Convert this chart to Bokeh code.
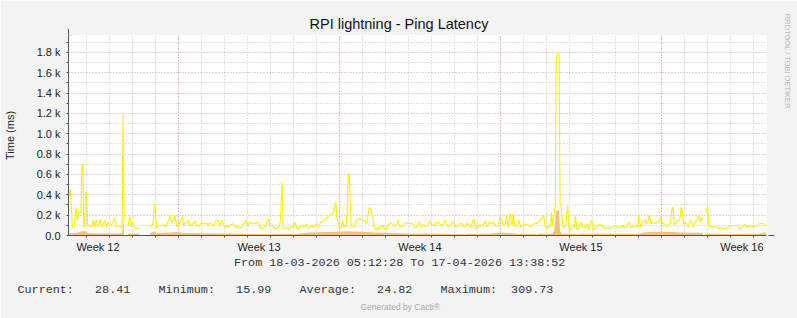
import numpy as np
import pandas as pd
from bokeh.plotting import figure
from bokeh.models import FixedTicker, Grid, Arrow, NormalHead, Range1d, Title
from bokeh.embed import file_html
from bokeh.resources import INLINE

# ---------------- data ----------------
start = pd.Timestamp("2026-03-18 05:12:28")
end = pd.Timestamp("2026-04-17 13:38:52")

# ping latency (max), hours after start -> ms ; None = no data
max_hours = [0, 2, 4, 6, 8, 9, 11, 13, 14, 15, 16, 17, 18, 19, 20, 22, 24, 26, 27, 29,
             31, 33, 35, 38, 40, 41, 45, 48, 50, 52, 54, 56, 57, 58, 60, 62, 64, 66, 67, 69,
             71, 74, 76, 85, 86, 88, 90, 92, 94, 96, 99, 101, 104, 106, 108, 110, 111, 113, 115, 119,
             120, 123, 125, 127, 130, 132, 134, 136, 139, 141, 144, 146, 147, 149, 151, 153, 156, 158, 160, 163,
             165, 167, 170, 172, 174, 177, 178, 181, 184, 185, 187, 189, 192, 194, 197, 199, 201, 204, 206, 209,
             210, 213, 216, 219, 220, 221, 222, 223, 224, 227, 230, 232, 235, 236, 238, 240, 243, 246, 248, 250,
             253, 256, 258, 260, 263, 265, 267, 269, 271, 273, 276, 277, 279, 280, 282, 284, 286, 287, 290, 291,
             292, 293, 295, 298, 301, 304, 306, 309, 311, 312, 314, 316, 318, 319, 321, 323, 324, 327, 329, 331,
             333, 336, 338, 341, 343, 344, 346, 349, 351, 354, 357, 360, 362, 364, 366, 368, 370, 372, 375, 377,
             379, 382, 383, 386, 389, 391, 393, 395, 397, 399, 401, 403, 404, 407, 410, 411, 413, 415, 416, 419,
             421, 423, 425, 427, 429, 431, 434, 435, 437, 439, 442, 444, 446, 449, 450, 452, 454, 456, 457, 459,
             461, 463, 464, 466, 469, 470, 472, 474, 477, 480, 482, 485, 488, 489, 492, 495, 496, 497, 499, 500,
             503, 504, 505, 507, 508, 509, 510, 511, 512, 513, 514, 516, 517, 519, 520, 521, 522, 523, 526, 528,
             529, 531, 533, 535, 537, 540, 541, 543, 545, 546, 548, 550, 553, 555, 557, 560, 562, 564, 567, 569,
             571, 573, 576, 578, 580, 582, 585, 587, 589, 592, 594, 595, 597, 599, 602, 603, 605, 606, 608, 611,
             613, 615, 617, 618, 620, 622, 625, 627, 628, 629, 630, 631, 632, 633, 636, 638, 639, 640, 641, 642,
             644, 646, 647, 649, 651, 652, 654, 656, 658, 659, 661, 662, 663, 665, 666, 667, 668, 670, 672, 674,
             677, 678, 681, 684, 686, 689, 692, 694, 697, 699, 701, 704, 706, 708, 711, 713, 716, 719, 721, 723,
             726, 727, 728]
max_ms = [375, 450, 85, 80, 280, 150, 225, 230, 690, 700, 70, 100, 430, 420, 100, 95, 82, 157, 82, 150,
          82, 155, 82, 150, 75, 136, 100, 174, 90, 95, 80, 85, 1200, 150, None, 92, 187, 82, 136, 75,
          75, 75, None, 82, 90, 115, 305, 75, 100, 95, 105, 82, 141, 193, 120, 157, 203, 90, 98, 187,
          98, 131, 148, 98, 115, 141, 98, 88, 131, 115, 121, 98, 121, 115, 88, 131, 154, 98, 148, 82,
          98, 82, 108, 115, 82, 88, 66, 82, 131, 148, 98, 131, 115, 115, 131, 115, 66, 82, 98, 164,
          98, 98, 66, 82, 115, 130, 350, 522, 66, 82, 56, 82, 82, 131, 82, 56, 98, 82, 115, 66,
          98, 82, 115, 82, 131, 131, 154, 164, 187, 197, 213, 246, 328, 180, 115, 66, 148, 82, 98, 300,
          610, 600, 98, 82, 154, 164, 154, 148, 115, 180, 279, 246, 164, 82, 56, 82, 56, 98, 82, 56,
          98, 121, 115, 88, 121, 148, 82, 98, 121, 121, 115, 115, 75, 88, 131, 82, 108, 88, 98, 148,
          108, 98, 121, 131, 98, 115, 148, 98, 82, 108, 141, 108, 88, 98, 121, 115, 82, 98, 121, 82,
          115, 164, 66, 82, 108, 88, 121, 148, 82, 131, 115, 131, 88, 98, 180, 164, 98, 115, 197, 82,
          213, 98, 213, 82, 115, 148, 82, 98, 115, 98, 82, 108, 121, 115, 148, 180, 197, 98, 66, 82,
          82, 230, 98, 230, 300, 1720, 1780, 1790, 1790, 305, 305, 82, 82, 115, 200, 295, 90, 49, 82, 82,
          197, 56, 82, 131, 82, 82, 115, 56, 131, 148, 49, 82, 98, 115, 88, 75, 75, 75, 75, 88,
          98, 82, 82, 98, 82, 75, 131, 82, 82, 98, 82, 197, 82, 131, 154, 115, 148, 197, 121, 131,
          115, 141, 131, 180, 115, 115, 88, 115, 115, 200, 279, 270, 100, 115, 148, 150, 260, 279, 200, 115,
          131, 88, 82, 154, 115, 82, 131, 164, 197, 131, 180, 150, None, 220, 250, 285, 98, 82, 88, 82,
          82, 66, 82, 66, 75, 82, 98, 98, 98, 98, 56, 98, 108, 82, 98, 82, 88, 98, 121, 121,
          115, 98, 95]

# ping latency (average), hours after start -> ms
avg_hours = [0, 8, 13, 17, 20, 30, 40, 50, 55, 56, 57, 58, 59, 62, 74, 75, 85, 90, 92, 100,
             110, 115, 120, 140, 160, 180, 200, 220, 240, 250, 260, 270, 280, 290, 300, 310, 320, 330, 345, 360,
             375, 380, 410, 412, 413, 414, 440, 450, 460, 470, 488, 489, 490, 505, 507, 508, 509, 512, 513, 515,
             530, 531, 532, 560, 595, 600, 610, 630, 640, 660, 662, 663, 665, 690, 720, 726, 728]
avg_ms = [22, 25, 40, 45, 25, 20, 22, 20, 22, 30, 150, 30, None, 20, 20, None, 25, 40, 25, 28,
          32, 35, 25, 22, 20, 18, 15, 15, 18, 30, 32, 35, 38, 42, 40, 35, 30, 28, 22, 16,
          20, 16, 15, 15, 3, 15, 16, 30, 25, 15, 15, 3, 16, 18, 60, 150, 240, 250, 40, 16,
          16, 3, 16, 16, 16, 30, 38, 35, 30, 28, 28, None, 16, 15, 18, 30, 28.41]

week_names = ["Week 12", "Week 13", "Week 14", "Week 15", "Week 16"]
week_mondays = ["2026-03-16", "2026-03-23", "2026-03-30", "2026-04-06", "2026-04-13"]

y_ticks = [0, 200, 400, 600, 800, 1000, 1200, 1400, 1600, 1800]
y_labels = ["0.0", "0.2 k", "0.4 k", "0.6 k", "0.8 k", "1.0 k", "1.2 k", "1.4 k", "1.6 k", "1.8 k"]
y_minor = [100, 300, 500, 700, 900, 1100, 1300, 1500, 1700, 1900]

stat_names = ["Current", "Minimum", "Average", "Maximum"]
stat_values = [28.41, 15.99, 24.82, 309.73]

# ---------------- derived ----------------
def hrs(ts):
    return (pd.Timestamp(ts) - start) / pd.Timedelta(hours=1)

total_h = hrs(end)
week_starts_h = [hrs(d) for d in week_mondays]
week_mid_h = [h + 84.0 for h in week_starts_h]
day_h = [hrs(d) for d in pd.date_range("2026-03-16", "2026-04-18", freq="D")]
day_h = [h for h in day_h if 0 < h < total_h]

mx_x = np.array(max_hours, dtype=float)
mx_y = np.array([np.nan if v is None else v for v in max_ms], dtype=float)
av_x = np.array(avg_hours, dtype=float)
av_y = np.array([np.nan if v is None else v for v in avg_ms], dtype=float)

# ---------------- layout constants (canvas px) ----------------
W, H = 797, 318
FL, FR, FT, FB = 67, 766, 35, 235
BG = "#F3F3F3"

p = figure(width=W, height=H, output_backend="svg", toolbar_location=None,
           x_range=Range1d(0, total_h), y_range=Range1d(0, 1967),
           min_border_left=FL, min_border_right=W - FR, min_border_top=FT,
           min_border_bottom=H - FB)
p.background_fill_color = "#FFFFFF"
p.border_fill_color = BG
p.outline_line_color = None
p.xgrid.visible = False
p.ygrid.visible = False

AX = "#3E5E54"
GRID_MIN = "#C4C4C4"
GRID_MAJ = "#E09A9A"

# grids
p.add_layout(Grid(dimension=0, ticker=FixedTicker(ticks=day_h), grid_line_color=GRID_MIN,
                  grid_line_dash="1 2", grid_line_width=1))
p.add_layout(Grid(dimension=1, ticker=FixedTicker(ticks=y_minor), grid_line_color=GRID_MIN,
                  grid_line_dash="1 2", grid_line_width=1))
p.add_layout(Grid(dimension=0, ticker=FixedTicker(ticks=week_starts_h[1:]), grid_line_color=GRID_MAJ,
                  grid_line_dash="1 2", grid_line_width=1))
p.add_layout(Grid(dimension=1, ticker=FixedTicker(ticks=y_ticks[1:]), grid_line_color=GRID_MAJ,
                  grid_line_dash="1 2", grid_line_width=1))

# data
p.line(mx_x, mx_y, line_color="#FFEE00", line_width=1.1)

def segments(x, y):
    seg, cur = [], []
    for a, b in zip(x, y):
        if np.isnan(b):
            if cur:
                seg.append(cur)
            cur = []
        else:
            cur.append((a, b))
    if cur:
        seg.append(cur)
    return seg

for s in segments(av_x, av_y):
    xs = [a for a, _ in s]
    ys = [b for _, b in s]
    p.varea(x=xs, y1=[0] * len(xs), y2=ys, fill_color="#F0C478")

# axes
FONT = "Liberation Sans"
for ax in (p.xaxis[0], p.yaxis[0]):
    ax.axis_line_color = AX
    ax.axis_line_width = 1
    ax.major_tick_line_color = AX
    ax.minor_tick_line_color = AX
    ax.major_label_text_font = FONT
    ax.major_label_text_font_size = "11px"
    ax.major_label_text_color = "#222222"

p.yaxis.ticker = FixedTicker(ticks=y_ticks, minor_ticks=y_minor)
p.yaxis.major_label_overrides = {t: l for t, l in zip(y_ticks, y_labels)}
p.yaxis.major_tick_in = 0
p.yaxis.major_tick_out = 2
p.yaxis.minor_tick_in = 0
p.yaxis.minor_tick_out = 2
p.yaxis.major_label_standoff = 6
p.yaxis.axis_label = "Time (ms)"
p.yaxis.axis_label_text_font = FONT
p.yaxis.axis_label_text_font_size = "11px"
p.yaxis.axis_label_text_font_style = "normal"
p.yaxis.axis_label_text_color = "#222222"
p.yaxis.axis_label_standoff = 18

p.xaxis.ticker = FixedTicker(ticks=week_mid_h, minor_ticks=day_h)
p.xaxis.major_label_overrides = {t: l for t, l in zip(week_mid_h, week_names)}
p.xaxis.major_tick_in = 0
p.xaxis.major_tick_out = 0
p.xaxis.minor_tick_in = 0
p.xaxis.minor_tick_out = 2
p.xaxis.major_label_standoff = 3

# axis arrows
p.add_layout(Arrow(x_start=0, y_start=FB - FT, x_end=0, y_end=FB - 28.5,
                   start_units="screen", end_units="screen", line_color=AX, line_width=1,
                   end=NormalHead(size=6, fill_color=AX, line_color=AX)))
p.add_layout(Arrow(x_start=FR - FL, y_start=0, x_end=773 - FL, y_end=0,
                   start_units="screen", end_units="screen", line_color=AX, line_width=1,
                   end=NormalHead(size=6, fill_color=AX, line_color=AX)))

# texts (titles in side panels)
p.title = Title(text="RPI lightning - Ping Latency", align="left", offset=241, standoff=7,
                text_font=FONT, text_font_size="14.5px", text_font_style="normal",
                text_color="#111111")

MONO = "Liberation Mono"
range_text = "From %s To %s" % (start.strftime("%d-%m-%Y %H:%M:%S"), end.strftime("%d-%m-%Y %H:%M:%S"))
p.add_layout(Title(text=range_text, align="left", offset=165.5, standoff=-3,
                   text_font=MONO, text_font_size="11.75px", text_font_style="normal",
                   text_color="#333333"), "below")
stats_line = "    ".join(f"{n}:{v:8.2f}" for n, v in zip(stat_names, stat_values))
stats_line = stats_line.replace(" ", "\u00a0")
p.add_layout(Title(text=stats_line, align="left", offset=-51, standoff=25.4,
                   text_font=MONO, text_font_size="11.75px", text_font_style="normal",
                   text_color="#333333"), "below")
p.add_layout(Title(text="Generated by Cacti\u00ae", align="left", offset=292, standoff=-16,
                   vertical_align="top",
                   text_font=FONT, text_font_size="8.5px", text_font_style="normal",
                   text_color="#AAAAAA"), "below")
# vertical credit: second (blank) line pushes the text away from the plot edge
p.add_layout(Title(text="RRDTOOL / TOBI OETIKER\n\u00a0", align="left", offset=-21.7, standoff=0,
                   vertical_align="bottom", text_line_height=1.85,
                   text_font=FONT, text_font_size="7.5px", text_font_style="normal",
                   text_color="#B8B8B8"), "right")

open("out.html", "w").write(file_html(p, INLINE))
